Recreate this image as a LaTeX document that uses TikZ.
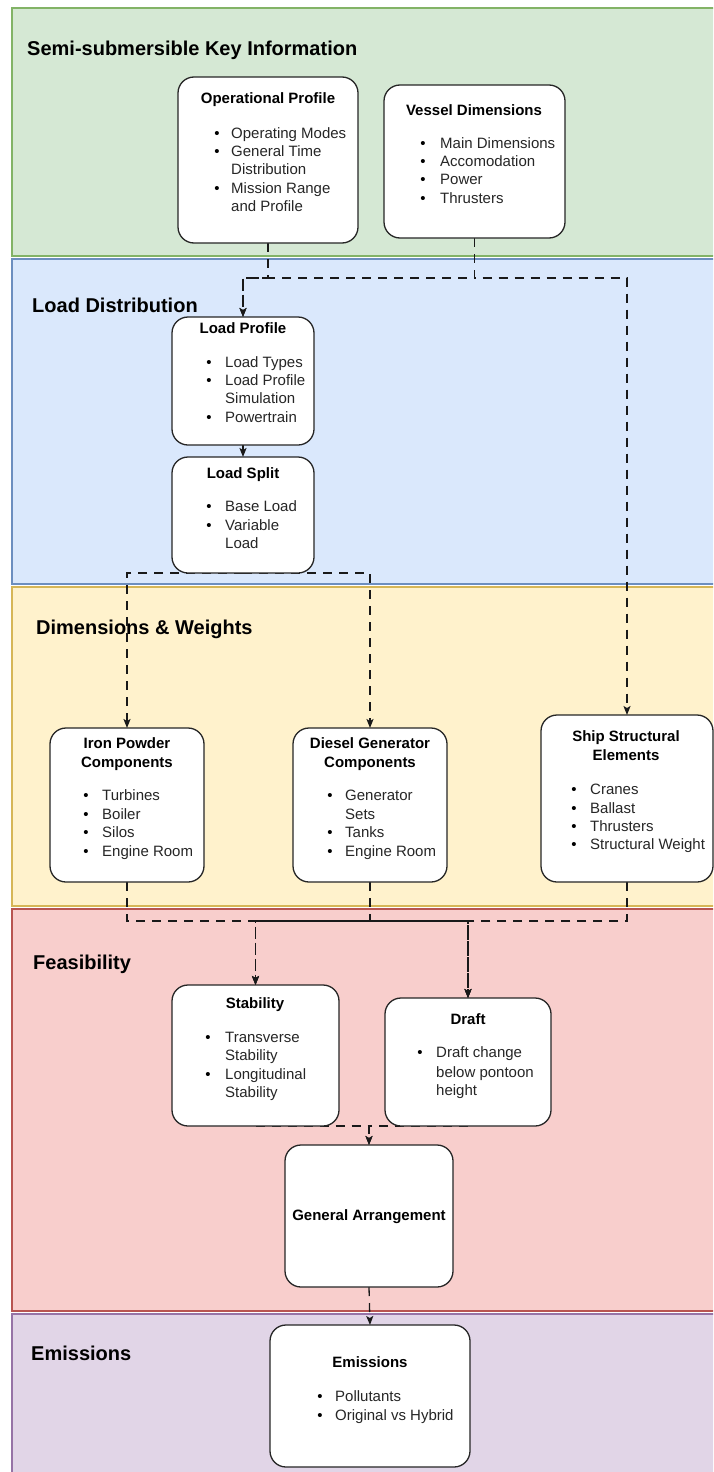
\documentclass[tikz,border=0pt]{standalone}
\usepackage{fontspec}
\setmainfont{Liberation Sans}
\usetikzlibrary{arrows.meta}
\definecolor{gfill}{HTML}{D5E8D4}\definecolor{gline}{HTML}{82B366}
\definecolor{bfill}{HTML}{DAE8FC}\definecolor{bline}{HTML}{6C8EBF}
\definecolor{yfill}{HTML}{FFF2CC}\definecolor{yline}{HTML}{D6B656}
\definecolor{rfill}{HTML}{F8CECC}\definecolor{rline}{HTML}{B85450}
\definecolor{pfill}{HTML}{E1D5E7}\definecolor{pline}{HTML}{9673A6}
\newcommand{\bitem}[5]{\node[bul] (#1b) at (#2,#3) {\textbullet}; \node[itm] (#1) at (#4,#3) {#5};}
\begin{document}
\begin{tikzpicture}[x=1pt,y=-1pt,
  band/.style={line width=1.5pt},
  box/.style={draw=black!85, line width=1.3pt, fill=white, rounded corners=16pt, inner sep=0pt, outer sep=0pt},
  sect/.style={font=\bfseries\fontsize{20}{24}\selectfont, anchor=base west, inner sep=0pt},
  ttl/.style={font=\bfseries\fontsize{15}{18}\selectfont, anchor=base, inner sep=0pt},
  itm/.style={font=\fontsize{15}{18}\selectfont, anchor=base west, inner sep=0pt, text=black!85},
  bul/.style={font=\fontsize{15}{18}\selectfont, anchor=base, inner sep=0pt},
  conn/.style={line width=1.3pt, dash pattern=on 9pt off 7pt, draw=black!90},
  arr/.style={-{Stealth[length=9pt,width=7pt,inset=2pt]}}]
\useasboundingbox (0,0) rectangle (713,1472);
\fill[white] (0,0) rectangle (713,1472);
\begin{scope}
\clip (0,0) rectangle (713,1472);
\path[band, fill=gfill, draw=gline] (12,8) rectangle (725,256);
\path[band, fill=bfill, draw=bline] (12,259) rectangle (725,584);
\path[band, fill=yfill, draw=yline] (12,587) rectangle (725,906);
\path[band, fill=rfill, draw=rline] (12,909) rectangle (725,1311);
\path[band, fill=pfill, draw=pline] (12,1314) rectangle (725,1490);
\end{scope}

% section titles
\node[sect] (t1) at (27,56) {Semi-submersible Key Information};
\node[sect] (t2) at (32,312) {Load Distribution};
\node[sect] (t3) at (36,634) {Dimensions \& Weights};
\node[sect] (t4) at (33,969) {Feasibility};
\node[sect] (t5) at (31,1360) {Emissions};

% box geometry (invisible first, to anchor connectors)
\path
 (268,160) node[box, draw=none, fill=none, minimum width=180pt, minimum height=166pt] (op) {}
 (474.5,161.5) node[box, draw=none, fill=none, minimum width=181pt, minimum height=153pt] (vd) {}
 (243,381) node[box, draw=none, fill=none, minimum width=142pt, minimum height=128pt] (lp) {}
 (243,515) node[box, draw=none, fill=none, minimum width=142pt, minimum height=116pt] (ls) {}
 (127,805) node[box, draw=none, fill=none, minimum width=154pt, minimum height=154pt] (ip) {}
 (370,805) node[box, draw=none, fill=none, minimum width=154pt, minimum height=154pt] (dg) {}
 (627,798.5) node[box, draw=none, fill=none, minimum width=172pt, minimum height=167pt] (ss) {}
 (255.5,1055.5) node[box, draw=none, fill=none, minimum width=167pt, minimum height=141pt] (st) {}
 (468,1062) node[box, draw=none, fill=none, minimum width=166pt, minimum height=128pt] (dr) {}
 (369,1216) node[box, draw=none, fill=none, minimum width=168pt, minimum height=142pt] (ga) {}
 (370,1396) node[box, draw=none, fill=none, minimum width=200pt, minimum height=142pt] (em) {};

\coordinate (h1) at (0,278);
\coordinate (h2) at (0,921);

% connectors
\draw[conn,arr] (op.south) -- (op.south |- h1) -| (lp.north);
\draw[conn,arr] (vd.south) -- (vd.south |- h1) -| (lp.north);
\draw[conn,arr] (vd.south) -- (vd.south |- h1) -| (ss.north);
\draw[conn,arr] (lp.south) -- (ls.north);
\draw[conn,arr] (ls.south) -| (ip.north);
\draw[conn,arr] (ls.south) -| (dg.north);
\foreach \a in {ip,dg,ss}{
  \foreach \b in {st,dr}{
    \draw[conn,arr] (\a.south) -- (\a.south |- h2) -| (\b.north);
  }
}
\draw[conn,arr] (st.south) -| (ga.north);
\draw[conn,arr] (dr.south) -| (ga.north);
\draw[conn,arr] (ga.south) -- (em.north);

% visible boxes
\foreach \n in {op,vd,lp,ls,ip,dg,ss,st,dr,ga,em}{
  \draw[box] (\n.south west) rectangle (\n.north east);
}

% Operational Profile
\node[ttl] (opT) at (268,103) {Operational Profile};
\bitem{op1}{217}{138}{231}{Operating Modes}
\bitem{op2}{217}{156}{231}{General Time}
\node[itm] (op3) at (231,174) {Distribution};
\bitem{op4}{217}{193}{231}{Mission Range}
\node[itm] (op5) at (231,211) {and Profile};

% Vessel Dimensions
\node[ttl] (vdT) at (474,115) {Vessel Dimensions};
\bitem{vd1}{423}{148}{440}{Main Dimensions}
\bitem{vd2}{423}{166}{440}{Accomodation}
\bitem{vd3}{423}{184}{440}{Power}
\bitem{vd4}{423}{203}{440}{Thrusters}

% Load Profile
\node[ttl] (lpT) at (243,333) {Load Profile};
\bitem{lp1}{209}{367}{225}{Load Types}
\bitem{lp2}{209}{385}{225}{Load Profile}
\node[itm] (lp3) at (225,403) {Simulation};
\bitem{lp4}{209}{422}{225}{Powertrain}

% Load Split
\node[ttl] (lsT) at (243,478) {Load Split};
\bitem{ls1}{209}{511}{225}{Base Load}
\bitem{ls2}{209}{530}{225}{Variable}
\node[itm] (ls3) at (225,548) {Load};

% Iron Powder
\node[ttl] (ipT1) at (127,748) {Iron Powder};
\node[ttl] (ipT2) at (127,767) {Components};
\bitem{ip1}{86}{800}{102}{Turbines}
\bitem{ip2}{86}{819}{102}{Boiler}
\bitem{ip3}{86}{837}{102}{Silos}
\bitem{ip4}{86}{856}{102}{Engine Room}

% Diesel Generator
\node[ttl] (dgT1) at (370,748) {Diesel Generator};
\node[ttl] (dgT2) at (370,767) {Components};
\bitem{dg1}{330}{800}{345}{Generator}
\node[itm] (dg2) at (345,819) {Sets};
\bitem{dg3}{330}{837}{345}{Tanks}
\bitem{dg4}{330}{856}{345}{Engine Room}

% Ship Structural Elements
\node[ttl] (ssT1) at (626,741) {Ship Structural};
\node[ttl] (ssT2) at (626,760) {Elements};
\bitem{ss1}{574}{794}{590}{Cranes}
\bitem{ss2}{574}{813}{590}{Ballast}
\bitem{ss3}{574}{831}{590}{Thrusters}
\bitem{ss4}{574}{849}{590}{Structural Weight}

% Stability
\node[ttl] (stT) at (255,1008) {Stability};
\bitem{st1}{208}{1042}{225}{Transverse}
\node[itm] (st2) at (225,1060) {Stability};
\bitem{st3}{208}{1079}{225}{Longitudinal}
\node[itm] (st4) at (225,1097) {Stability};

% Draft
\node[ttl] (drT) at (468,1024) {Draft};
\bitem{dr1}{420}{1057}{436}{Draft change}
\node[itm] (dr2) at (436,1077) {below pontoon};
\node[itm] (dr3) at (436,1095) {height};

% General Arrangement
\node[ttl] (gaT) at (369,1220) {General Arrangement};

% Emissions
\node[ttl] (emT) at (370,1367) {Emissions};
\bitem{em1}{320}{1401}{335}{Pollutants}
\bitem{em2}{320}{1420}{335}{Original vs Hybrid}
\end{tikzpicture}
\end{document}
